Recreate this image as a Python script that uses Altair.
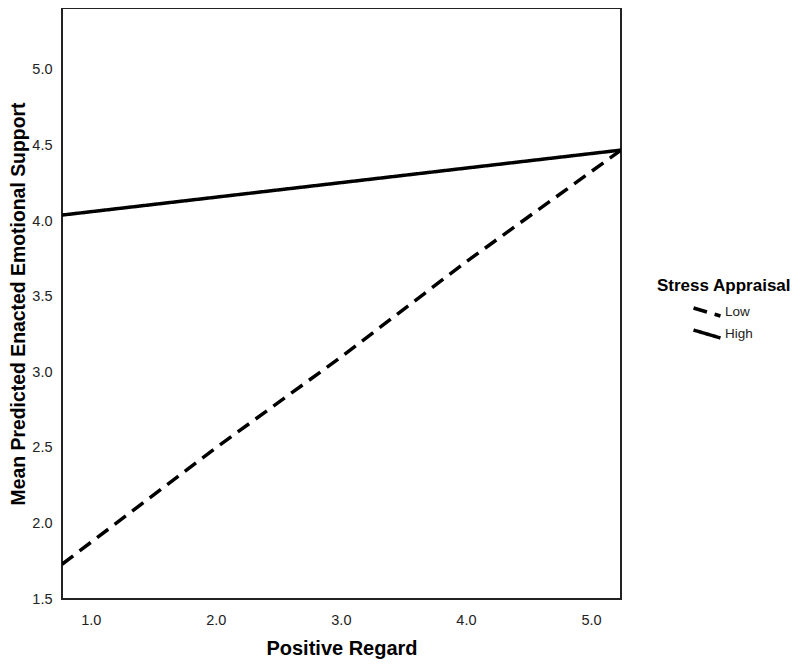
import altair as alt
import pandas as pd

low_x = [0.77, 2.0, 3.0, 4.0, 5.24]
low_y = [1.73, 2.50, 3.10, 3.73, 4.47]
high_x = [0.77, 5.24]
high_y = [4.04, 4.47]
x_ticks = [1.0, 2.0, 3.0, 4.0, 5.0]
y_ticks = [1.5, 2.0, 2.5, 3.0, 3.5, 4.0, 4.5, 5.0]

rows = []
for i, (x, y) in enumerate(zip(low_x, low_y)):
    rows.append({"x": x, "y": y, "group": "Low", "order": i})
for i, (x, y) in enumerate(zip(high_x, high_y)):
    rows.append({"x": x, "y": y, "group": "High", "order": i})
df = pd.DataFrame(rows)

font = "Liberation Sans"

chart = alt.Chart(df).mark_line(color="black", strokeWidth=3.5, clip=True).encode(
    x=alt.X("x:Q",
            scale=alt.Scale(domain=[0.77, 5.24], nice=False, zero=False),
            axis=alt.Axis(values=x_ticks, format=".1f", title="Positive Regard",
                          grid=False, ticks=False, domain=False,
                          labelFontSize=14.5, labelColor="#222", labelFont=font,
                          labelPadding=14, titleFont=font, titleFontSize=20,
                          titleFontWeight="bold", titlePadding=12, titleColor="black")),
    y=alt.Y("y:Q",
            scale=alt.Scale(domain=[1.5, 5.41], nice=False, zero=False),
            axis=alt.Axis(values=y_ticks, format=".1f",
                          title="Mean Predicted Enacted Emotional Support",
                          grid=False, ticks=False, domain=False,
                          labelFontSize=14.5, labelColor="#222", labelFont=font,
                          labelPadding=10, titleFont=font, titleFontSize=19.4,
                          titleFontWeight="bold", titlePadding=3, titleColor="black")),
    strokeDash=alt.StrokeDash("group:N",
                              scale=alt.Scale(domain=["Low", "High"],
                                              range=[[14, 8], [1, 0]]),
                              legend=alt.Legend(title="Stress Appraisal",
                                                orient="none", legendX=595, legendY=270,
                                                titleFont=font, titleFontSize=17,
                                                titleFontWeight="bold", titleColor="black",
                                                labelFont=font, labelFontSize=13.5,
                                                labelColor="#222",
                                                symbolType="M -2.2 -0.65 L 2.2 0.65",
                                                symbolSize=150, symbolStrokeWidth=3.5,
                                                symbolStrokeColor="black",
                                                symbolDash=[15, 5],
                                                symbolOffset=42,
                                                labelOffset=10,
                                                rowPadding=0, titlePadding=9)),
    order="order:Q",
    detail="group:N",
).properties(
    width=559, height=591,
    autosize=alt.AutoSizeParams(type="none"),
    padding={"left": 54, "top": 0, "right": 171, "bottom": 61},
).configure(
    background="white",
    view=alt.ViewConfig(stroke="#222", strokeWidth=2),
)

chart.save("out.html", embed_options={"renderer": "svg", "actions": False})
